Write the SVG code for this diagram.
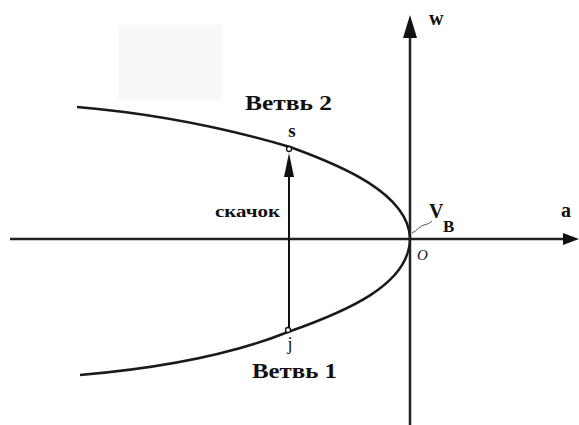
<svg xmlns="http://www.w3.org/2000/svg" width="579" height="425" viewBox="0 0 579 425">
<style>
.ax{stroke:#222;stroke-width:2.5;fill:none}
.cv{stroke:#1a1a1a;stroke-width:2.5;fill:none}
text{font-family:'Liberation Serif','Times New Roman','DejaVu Serif',serif;fill:#111}
.b{font-weight:bold}
.pt{fill:#fff;stroke:#111;stroke-width:1.3}
</style>
<rect x="118" y="25" width="104" height="75" fill="#f8f8f8"/>
<g id="connectors">
<line class="ax" x1="10" y1="239" x2="566" y2="239"/>
<path d="M563,233 L579,239 L563,245 Z" fill="#111"/>
<line class="ax" x1="410" y1="425" x2="410" y2="34"/>
<path d="M403,38 L410,15 L417,38 Z" fill="#111"/>
<path class="cv" d="M77,107 C148,113 219,126 290,147 C340,165 408,193 410,238"/>
<path class="cv" d="M410,238 C410,285 345,312 288,332 C228,356 150,369 80,375"/>
<line x1="289" y1="328" x2="289" y2="172" stroke="#111" stroke-width="2"/>
<path d="M284,177 L289,153 L294,177 Z" fill="#111"/>
<path d="M412,233 C418,230 420,226 424,225 C428,224 430,223 432,221" stroke="#222" stroke-width="0.8" fill="none"/>
</g>
<g id="point-s"><circle class="pt" cx="289" cy="149" r="2.5"/><text class="b" x="292" y="137" font-size="19" text-anchor="middle">s</text></g>
<g id="point-j"><circle class="pt" cx="288" cy="330" r="2.5"/><text x="290" y="350" font-size="18" text-anchor="middle">j</text></g>
<g id="branch2"><text class="b" x="245" y="110" font-size="21" textLength="87" lengthAdjust="spacingAndGlyphs">Ветвь 2</text></g>
<g id="branch1"><text class="b" x="252" y="378" font-size="21" textLength="85" lengthAdjust="spacingAndGlyphs">Ветвь 1</text></g>
<g id="jump"><text class="b" x="215" y="217" font-size="17" textLength="65" lengthAdjust="spacingAndGlyphs">скачок</text></g>
<g id="axis-w"><text class="b" x="429" y="25" font-size="20">w</text></g>
<g id="axis-a"><text class="b" x="561" y="217" font-size="20">a</text></g>
<g id="vb"><text class="b" x="429" y="218" font-size="20">V</text><text class="b" x="443" y="232" font-size="17">B</text></g>
<g id="origin"><text x="417" y="260" font-size="15" font-style="italic" fill="#333">O</text></g>
</svg>
